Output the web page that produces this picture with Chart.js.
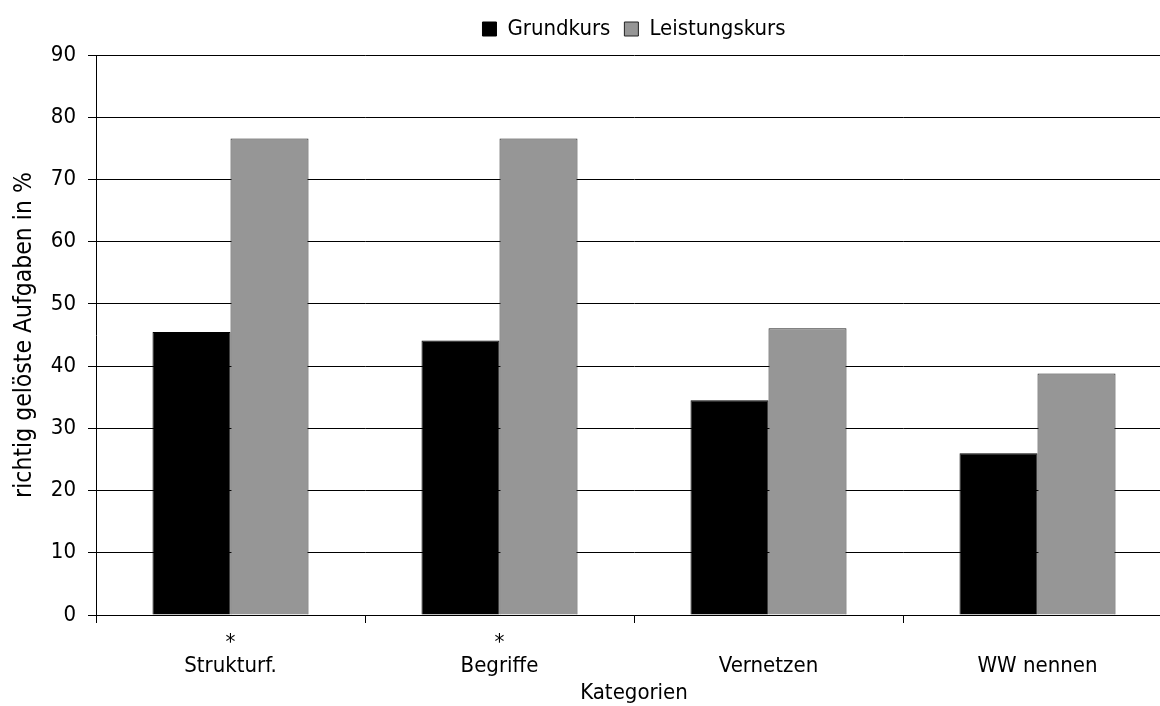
<!DOCTYPE html>
<html>
<head>
<meta charset="utf-8">
<script src="https://cdn.jsdelivr.net/npm/chart.js@4.4.1/dist/chart.umd.min.js"></script>
<style>
  html, body { margin: 0; padding: 0; background: #fff; overflow: hidden; }
  #wrap { width: 1175px; height: 706px; position: relative; }
</style>
</head>
<body>
<div id="wrap"><canvas id="c"></canvas></div>
<script>
const categories = [['*', 'Strukturf.'], ['*', 'Begriffe'], 'Vernetzen', 'WW nennen'];
const grundkurs = [45.5, 44.1, 34.5, 26.0];
const leistungskurs = [76.6, 76.6, 46.1, 38.8];
const seriesNames = ['Grundkurs', 'Leistungskurs'];
const yTitle = 'richtig gelöste Aufgaben in %';
const xTitle = 'Kategorien';

const FONT = 'DejaVu Sans Condensed';
Chart.defaults.color = '#000';

// add a little space below the legend row
const legendGap = {
  id: 'legendGap',
  beforeUpdate(chart) {
    const lg = chart.legend;
    if (lg && !lg._gapPatched) {
      const f = lg.fit;
      lg.fit = function () { f.call(this); this.height += 5; };
      lg._gapPatched = true;
    }
  }
};

new Chart(document.getElementById('c'), {
  type: 'bar',
  data: {
    labels: categories,
    datasets: [
      { label: seriesNames[0], data: grundkurs, backgroundColor: '#000000', borderColor: '#000000', borderWidth: 1 },
      { label: seriesNames[1], data: leistungskurs, backgroundColor: '#969696', borderColor: '#222222', borderWidth: 1 }
    ]
  },
  plugins: [legendGap],
  options: {
    responsive: true,
    maintainAspectRatio: false,
    animation: false,
    categoryPercentage: 0.58,
    barPercentage: 1.0,
    layout: { padding: { top: 4, right: 3, left: 0, bottom: 0 } },
    plugins: {
      tooltip: { enabled: false },
      legend: {
        position: 'top',
        fullSize: false,
        labels: {
          font: { family: FONT, size: 22 },
          color: '#000',
          boxWidth: 14,
          boxHeight: 14,
          padding: 14
        }
      }
    },
    scales: {
      x: {
        offset: true,
        grid: { display: true, drawOnChartArea: false, drawTicks: true, tickLength: 8, offset: true, color: '#000' },
        border: { display: true, color: '#000', width: 1 },
        ticks: { font: { family: FONT, size: 22, lineHeight: 1.05 }, color: '#000', padding: 20, crossAlign: 'far', maxRotation: 0, autoSkip: false },
        title: { display: true, text: xTitle, font: { family: FONT, size: 22 }, color: '#000', padding: { top: 0, bottom: 0 } },
        afterFit: (s) => { s.height = 91; }
      },
      y: {
        min: 0,
        max: 90,
        grid: { color: '#000', drawTicks: true, tickLength: 8 },
        border: { display: true, color: '#000', width: 1 },
        ticks: { stepSize: 10, font: { family: FONT, size: 22 }, color: '#000', padding: 12 },
        title: { display: true, text: yTitle, font: { family: FONT, size: 24.5 }, color: '#000', padding: { top: 10, bottom: 0 } },
        afterFit: (s) => { s.width = 96; }
      }
    }
  }
});
</script>
</body>
</html>
